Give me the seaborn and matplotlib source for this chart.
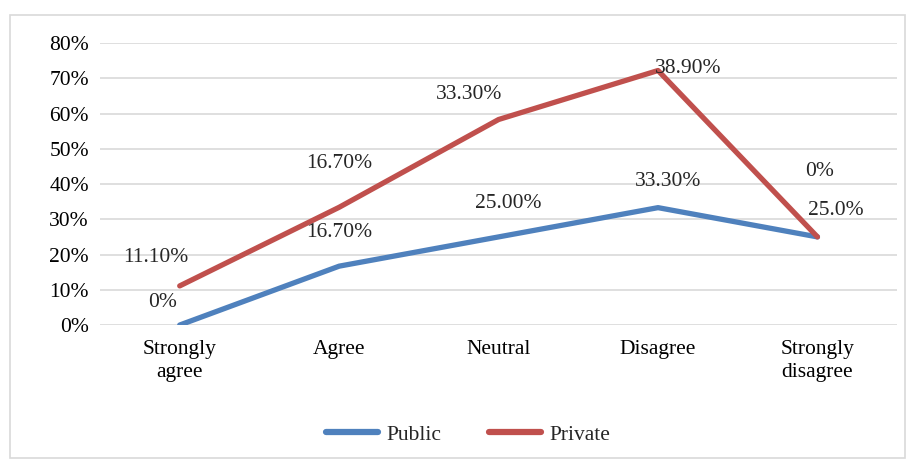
import pandas as pd
import seaborn as sns
import matplotlib.pyplot as plt
from matplotlib.patches import Rectangle
from matplotlib.ticker import PercentFormatter

# data
categories = ['Strongly\nagree', 'Agree', 'Neutral', 'Disagree', 'Strongly\ndisagree']
public = [0.0, 16.7, 25.0, 33.3, 25.0]
private = [11.1, 16.7, 33.3, 38.9, 0.0]
public_labels = ['0%', '16.70%', '25.00%', '33.30%', '25.0%']
private_labels = ['11.10%', '16.70%', '33.30%', '38.90%', '0%']

# stacked line chart (excel style): private sits on top of public
df = pd.DataFrame({'cat': categories, 'Public': public, 'Private': private})
df['Private'] = df['Public'] + df['Private']
long = df.melt(id_vars='cat', var_name='series', value_name='val')
long['val'] = long['val'] / 100

sns.set_style('white')
plt.rcParams['font.family'] = ['Liberation Serif', 'DejaVu Serif']
FS = 15.5

fig = plt.figure(figsize=(9.09, 4.65), dpi=100)
ax = fig.add_axes([0.11, 0.301, 0.877, 0.6065])

palette = {'Public': '#4F81BD', 'Private': '#C0504D'}
sns.lineplot(data=long, x='cat', y='val', hue='series', hue_order=['Public', 'Private'],
             palette=palette, linewidth=3.8, sort=False, ax=ax, legend=True)

ax.set_ylim(0, 0.8)
ax.set_xlim(-0.5, 4.5)
ax.set_yticks([i / 10 for i in range(9)])
ax.yaxis.set_major_formatter(PercentFormatter(1.0, decimals=0))
ax.grid(axis='y', color='#d9d9d9', linewidth=1.2)
ax.set_axisbelow(True)
for s in ax.spines.values():
    s.set_visible(False)
ax.tick_params(axis='both', length=0, labelsize=FS, colors='black')
ax.tick_params(axis='y', pad=8)
ax.tick_params(axis='x', pad=11)
for t in ax.get_xticklabels():
    t.set_linespacing(1.25)
ax.set_xlabel('')
ax.set_ylabel('')

# data labels (offsets in pixels from the point)
pub_off = [(-17, 23), (0, 34), (10, 33), (10, 26), (18, 26)]
priv_off = [(-24, 28), (0, 44), (-30, 25), (30, 2), (2, 65)]
for i in range(len(categories)):
    ax.annotate(public_labels[i], (i, df['Public'][i] / 100), xytext=(pub_off[i][0] * 0.72, pub_off[i][1] * 0.72),
                textcoords='offset points', ha='center', va='center', fontsize=FS)
    ax.annotate(private_labels[i], (i, df['Private'][i] / 100), xytext=(priv_off[i][0] * 0.72, priv_off[i][1] * 0.72),
                textcoords='offset points', ha='center', va='center', fontsize=FS)

leg = ax.legend(loc='center', bbox_to_anchor=(0.515, 0.065), bbox_transform=fig.transFigure,
                ncol=2, frameon=False, fontsize=FS, handlelength=2.4, handletextpad=0.4, columnspacing=2.2)
for h in leg.get_lines():
    h.set_linewidth(4.5)
    h.set_solid_capstyle('round')

fig.patches.append(Rectangle((10 / 909, 1 - 458 / 465), 895 / 909, 443 / 465, transform=fig.transFigure,
                             fill=False, edgecolor='#d9d9d9', linewidth=1.2))

fig.savefig('out.png', dpi=100)
